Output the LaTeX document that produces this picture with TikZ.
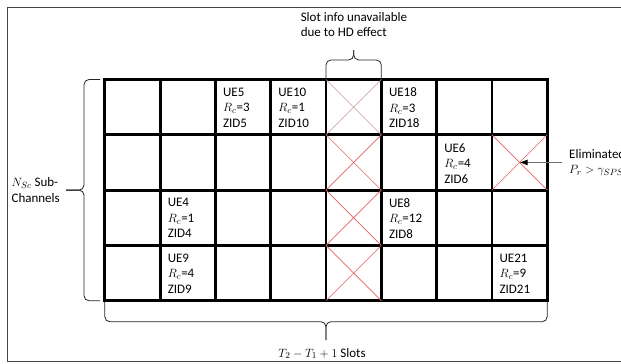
\documentclass[tikz,border=0pt]{standalone}
\usepackage{fontspec}
\setmainfont{Carlito}
\usepackage{tikz}
\usetikzlibrary{arrows.meta, calc}
\definecolor{framegray}{RGB}{70,70,70}
\definecolor{hdred}{RGB}{228,96,96}
\definecolor{hdpale}{RGB}{205,150,150}
\definecolor{arrowgray}{RGB}{110,110,110}

\begin{document}
\begin{tikzpicture}[x=1pt, y=-1pt,
  cell/.style={draw, line width=2.8pt, minimum width=55.3pt, minimum height=55.3pt,
               inner sep=0pt, outer sep=0pt},
  info/.style={anchor=north west, inner sep=0pt, align=left,
               font=\fontsize{13}{15.5}\selectfont},
  lbl/.style={inner sep=0pt, align=left, font=\fontsize{13}{15.5}\selectfont},
  hdx/.style={draw=hdred, line width=0.6pt},
  brc/.style={draw=black!85, line width=0.8pt, rounded corners=5pt},
  pointer/.style={draw=arrowgray, line width=0.8pt,
                  -{Latex[length=8pt, width=6pt, color=black]}}
]
\clip (0,0) rectangle (621,364);
\draw[framegray, line width=1pt] (7,7) rectangle (660,361);

%--- Slots (columns) x sub-channels (rows) ---
\foreach \r in {0,...,3}
  \foreach \c in {0,...,7}
    \node[cell] (s-\r-\c) at ({132.45+55.3*\c}, {107.15+55.3*\r}) {};

%--- Cell contents ---
\node[info] (ue5)  at ($(s-0-2.north west)+(7.5,8.3)$) {UE5\\$R_c$=3\\ZID5};
\node[info] (ue10) at ($(s-0-3.north west)+(7.5,8.3)$) {UE10\\$R_c$=1\\ZID10};
\node[info] (ue18) at ($(s-0-5.north west)+(7.5,8.3)$) {UE18\\$R_c$=3\\ZID18};
\node[info] (ue6)  at ($(s-1-6.north west)+(7.5,8.3)$) {UE6\\$R_c$=4\\ZID6};
\node[info] (ue4)  at ($(s-2-1.north west)+(7.5,8.3)$) {UE4\\$R_c$=1\\ZID4};
\node[info] (ue8)  at ($(s-2-5.north west)+(7.5,8.3)$) {UE8\\$R_c$=12\\ZID8};
\node[info] (ue9)  at ($(s-3-1.north west)+(7.5,8.3)$) {UE9\\$R_c$=4\\ZID9};
\node[info] (ue21) at ($(s-3-7.north west)+(7.5,8.3)$) {UE21\\$R_c$=9\\ZID21};

%--- Crossed-out cells ---
\foreach \r in {0,...,3} {
  \ifnum\r=0 \def\xcol{hdpale}\else \def\xcol{hdred}\fi
  \draw[hdx, draw=\xcol] (s-\r-4.north west) -- (s-\r-4.south east);
  \draw[hdx, draw=\xcol] (s-\r-4.south west) -- (s-\r-4.north east);
}
\draw[hdx] (s-1-7.north west) -- (s-1-7.south east);
\draw[hdx] (s-1-7.south west) -- (s-1-7.north east);

%--- Braces ---
\coordinate (hdtip)   at ($(s-0-4.north)+(0,-29.5)$);
\coordinate (subtip)  at ($(s-1-0.south west)+(-38.8,0)$);
\coordinate (slottip) at ($(s-3-3.south east)+(0,39.3)$);

\draw[brc] (s-0-4.north west) |- ($(hdtip)+(0,10)$) -- (hdtip);
\draw[brc] (s-0-4.north east) |- ($(hdtip)+(0,10)$) -- (hdtip);

\draw[brc] ($(s-0-0.north west)+(-4.8,0)$) -| ($(subtip)+(18,0)$) -- (subtip);
\draw[brc] ($(s-3-0.south west)+(-4.8,0)$) -| ($(subtip)+(18,0)$) -- (subtip);

\draw[brc] ($(s-3-0.south west)+(0,1.5)$) |- ($(slottip)+(0,-18.3)$) -- (slottip);
\draw[brc] ($(s-3-7.south east)+(0,1.5)$) |- ($(slottip)+(0,-18.3)$) -- (slottip);

%--- Labels ---
\node[lbl, anchor=south west] (hdtxt) at ($(hdtip)+(-53.1,-13)$)
  {Slot info unavailable\\due to HD effect};
\node[lbl, anchor=east] (subtxt) at ($(subtip)+(-6,0)$) {$N_{Sc}$ Sub-\\Channels};
\node[lbl, anchor=base] (slottxt) at ($(slottip)+(-4,17)$) {$T_2-T_1+1$ Slots};
\node[lbl, anchor=west] (elimtxt) at ($(s-1-7.east)+(21.8,0)$)
  {Eliminated\\$P_r>\gamma_{SPS}$};
\draw[pointer] ([xshift=-7pt]elimtxt.west) -- (s-1-7.center);

\end{tikzpicture}
\end{document}
